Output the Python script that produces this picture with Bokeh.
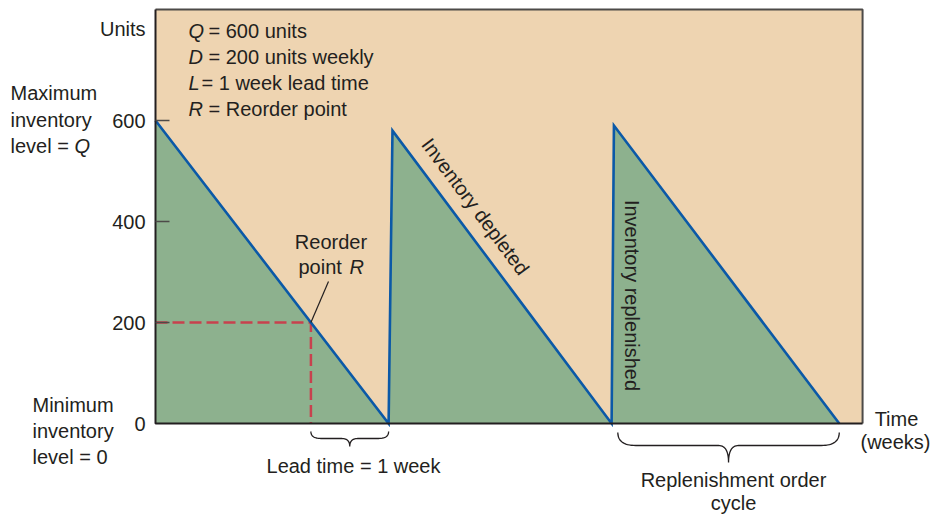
import numpy as np
from bokeh.plotting import figure
from bokeh.models import Range1d
from bokeh.core.properties import value
from bokeh.embed import file_html
from bokeh.resources import INLINE

# ---------------- data ----------------
time_weeks = [0.0, 3.0, 3.05, 5.87, 5.9, 8.8]
inventory_units = [600, 0, 580, 0, 590, 0]
y_ticks = [0, 200, 400, 600]
y_tick_labels = ["0", "200", "400", "600"]
reorder_time = 2.0
reorder_point = 200
lead_start, lead_end = 2.0, 3.0
cycle_start, cycle_end = 5.95, 8.8
x_max = 9.1
y_max = 820
legend_symbols = ["Q", "D", "L", "R"]
legend_texts = ["= 600 units", "= 200 units weekly", "= 1 week lead time", "= Reorder point"]

# ---------------- styling ----------------
TAN = "#eed4b1"
GREEN = "#8db18e"
BLUE = "#0b59a7"
RED = "#c8414e"
INK = "#231f20"
FONT = value("Liberation Sans")
FS = "20px"

W, H = 930, 514
OFF = 0
PX0, PXW = 155.0, 77.7     # page px of week 0, px per week
PY0, PYU = 423.0, 0.505    # page px of 0 units, px per unit


def X(px):
    return (px - PX0) / PXW


def Y(py):
    return (PY0 - py) / PYU


p = figure(width=W, height=H,
           x_range=Range1d(X(OFF), X(OFF + W)), y_range=Range1d(Y(OFF + H), Y(OFF)),
           x_axis_type=None, y_axis_type=None,
           toolbar_location=None, output_backend="svg", min_border=0)
p.outline_line_color = None
p.background_fill_color = "white"
p.border_fill_color = "white"


def txt(x, y, s, align="left", italic=False, angle=0.0):
    p.text(x=[x], y=[y], text=[s], text_font=FONT, text_font_size=FS,
           text_color=INK, text_align=align, text_baseline="middle",
           text_font_style="italic" if italic else "normal", angle=angle)


# background area
p.quad(left=0, right=x_max, bottom=0, top=y_max, fill_color=TAN, line_color=None)
# inventory area
p.varea(x=time_weeks, y1=[0] * len(time_weeks), y2=inventory_units,
        fill_color=GREEN)
# reorder dashed line
p.line([0, reorder_time, reorder_time], [reorder_point, reorder_point, 0],
       line_color=RED, line_width=2.5, line_dash="12 5")
# sawtooth
p.line(time_weeks, inventory_units, line_color=BLUE, line_width=2.6,
       line_join="miter")

# frame
p.line([0, x_max, x_max], [y_max, y_max, 0], line_color="#4d4a48", line_width=2)
p.line([0, 0, x_max], [y_max, 0, 0], line_color=INK, line_width=2)

# ticks
tk = [t for t in y_ticks if t > 0]
p.segment(x0=[0] * len(tk), x1=[14 / PXW] * len(tk), y0=tk, y1=tk,
          line_color="#4d4a48", line_width=1.5)
p.text(x=[X(145)] * len(y_ticks), y=y_ticks, text=y_tick_labels,
       text_font=FONT, text_font_size=FS, text_color=INK,
       text_align="right", text_baseline="middle")

# left labels
txt(X(145), Y(28), "Units", align="right")
txt(X(10), Y(92), "Maximum")
txt(X(10), Y(119), "inventory")
txt(X(10), Y(145), "level =")
txt(X(74), Y(145), "Q", italic=True)
txt(X(32), Y(404), "Minimum")
txt(X(32), Y(430), "inventory")
txt(X(32), Y(456), "level = 0")

# legend text
leg_y = [30, 56, 82, 108]
leg_x = [208, 208, 201, 208]
for sym, t, yy, xx in zip(legend_symbols, legend_texts, leg_y, leg_x):
    txt(X(188), Y(yy), sym, italic=True)
    txt(X(xx), Y(yy), t)

# reorder point annotation
txt(X(330.5), Y(241), "Reorder", align="center")
txt(X(298), Y(266), "point")
txt(X(349), Y(266), "R", italic=True)
p.line([X(328), reorder_time], [Y(281), reorder_point], line_color=INK, line_width=1.2)

# rotated labels
dx = (time_weeks[3] - time_weeks[2]) * PXW
dy = inventory_units[2] * PYU
txt(X(475), Y(206), "Inventory depleted", align="center", angle=-np.arctan2(dy, dx))
txt(X(631), Y(295), "Inventory replenished", align="center", angle=-np.pi / 2)


# braces
def qbez(p0, c, p1, n=16):
    t = np.linspace(0, 1, n)
    xs = (1 - t) ** 2 * p0[0] + 2 * (1 - t) * t * c[0] + t ** 2 * p1[0]
    ys = (1 - t) ** 2 * p0[1] + 2 * (1 - t) * t * c[1] + t ** 2 * p1[1]
    return list(xs), list(ys)


def brace(xa, xb, top_py, h_px, d_px, k_px, k2_px):
    ax = PX0 + xa * PXW
    bx = PX0 + xb * PXW
    mid = (ax + bx) / 2
    yh = top_py + h_px
    yt = top_py + d_px
    segs = [
        qbez((ax, top_py), (ax, yh), (ax + k_px, yh)),
        qbez((ax + k_px, yh), ((ax + mid) / 2, yh), (mid - k2_px, yh), n=2),
        qbez((mid - k2_px, yh), (mid, yh), (mid, yt)),
        qbez((mid, yt), (mid, yh), (mid + k2_px, yh)),
        qbez((mid + k2_px, yh), ((mid + bx) / 2, yh), (bx - k_px, yh), n=2),
        qbez((bx - k_px, yh), (bx, yh), (bx, top_py)),
    ]
    xs, ys = [], []
    for sx, sy in segs:
        xs += sx
        ys += sy
    return [X(v) for v in xs], [Y(v) for v in ys]


bx1, by1 = brace(lead_start, lead_end, 431, 7, 15, 10, 8)
bx2, by2 = brace(cycle_start, cycle_end, 432, 13, 30, 18, 10)
p.multi_line(xs=[bx1, bx2], ys=[by1, by2], line_color=INK, line_width=1.3)

txt(X(353), Y(465), "Lead time = 1 week", align="center")
txt(X(733), Y(479), "Replenishment order", align="center")
txt(X(733), Y(502), "cycle", align="center")
txt(X(896), Y(418), "Time", align="center")
txt(X(895), Y(441), "(weeks)", align="center")

open("out.html", "w").write(file_html(p, INLINE))
